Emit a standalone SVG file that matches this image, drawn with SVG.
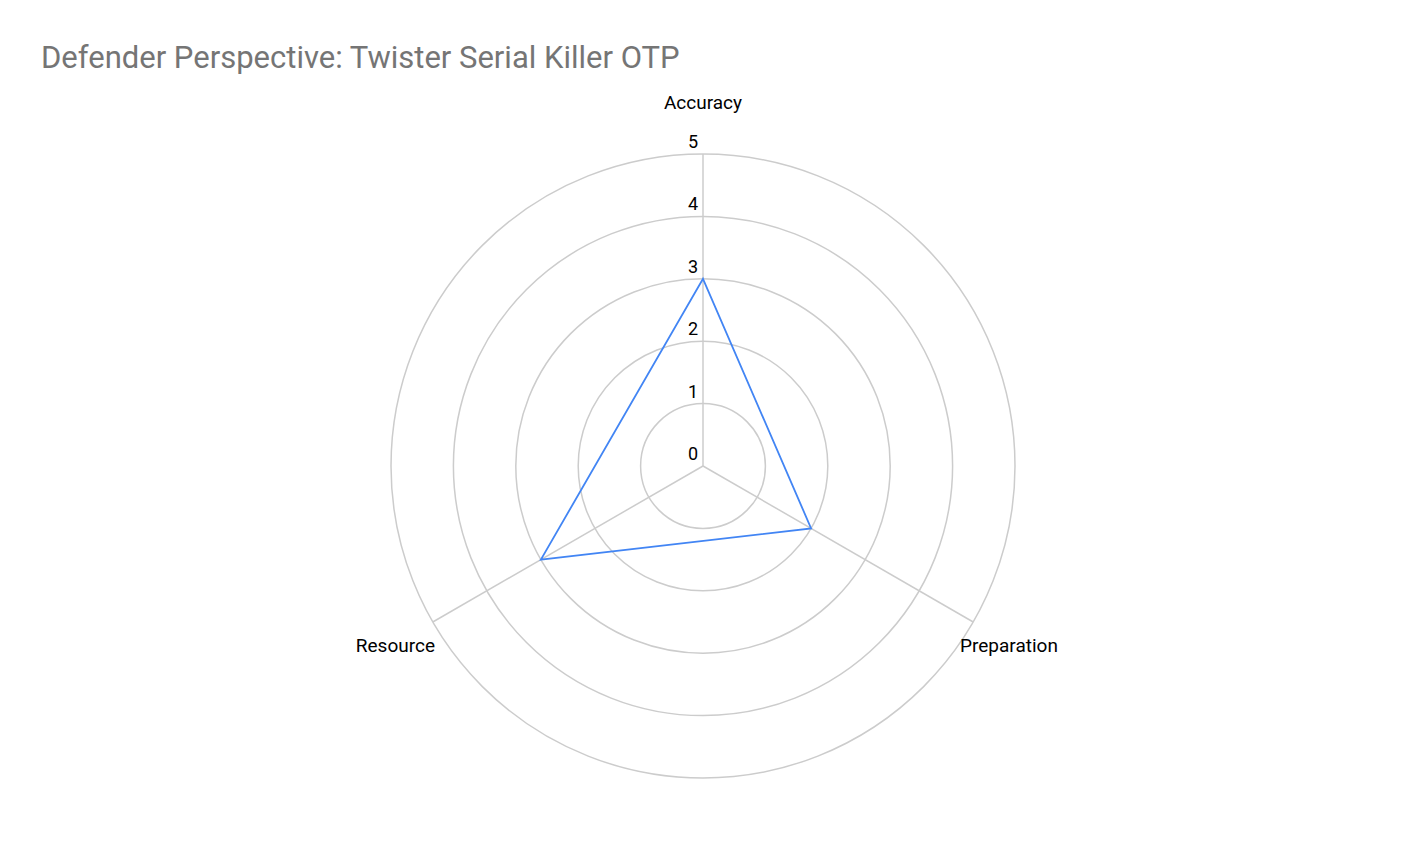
<svg xmlns="http://www.w3.org/2000/svg" width="1404" height="868" viewBox="0 0 1404 868">
<style>
.g{fill:none;stroke:#cccccc;stroke-width:1.5}
.t{font-family:Roboto,"Liberation Sans",sans-serif;font-size:19px;fill:#000}
.n{font-family:Roboto,"Liberation Sans",sans-serif;font-size:18px;fill:#000;text-anchor:end}
</style>
<rect width="1404" height="868" fill="#fff"/>
<text x="41" y="68" font-family="Roboto,'Liberation Sans',sans-serif" font-size="31" fill="#757575">Defender Perspective: Twister Serial Killer OTP</text>
<g id="grid">
<circle class="g" cx="703" cy="466" r="62.4"/>
<circle class="g" cx="703" cy="466" r="124.8"/>
<circle class="g" cx="703" cy="466" r="187.2"/>
<circle class="g" cx="703" cy="466" r="249.6"/>
<circle class="g" cx="703" cy="466" r="312"/>
</g>
<g id="connectors">
<line class="g" x1="703" y1="466" x2="703" y2="154"/>
<line class="g" x1="703" y1="466" x2="973.2" y2="622"/>
<line class="g" x1="703" y1="466" x2="432.8" y2="622"/>
<polygon points="703,278.8 811.1,528.4 540.9,559.6" fill="none" stroke="#4285f4" stroke-width="1.8"/>
</g>
<g id="ticks">
<text class="n" x="698" y="148">5</text>
<text class="n" x="698" y="210">4</text>
<text class="n" x="698" y="273">3</text>
<text class="n" x="698" y="335">2</text>
<text class="n" x="698" y="398">1</text>
<text class="n" x="698" y="460">0</text>
</g>
<g id="accuracy"><text class="t" x="703" y="109" text-anchor="middle">Accuracy</text></g>
<g id="preparation"><text class="t" x="960" y="652">Preparation</text></g>
<g id="resource"><text class="t" x="435" y="652" text-anchor="end">Resource</text></g>
</svg>
